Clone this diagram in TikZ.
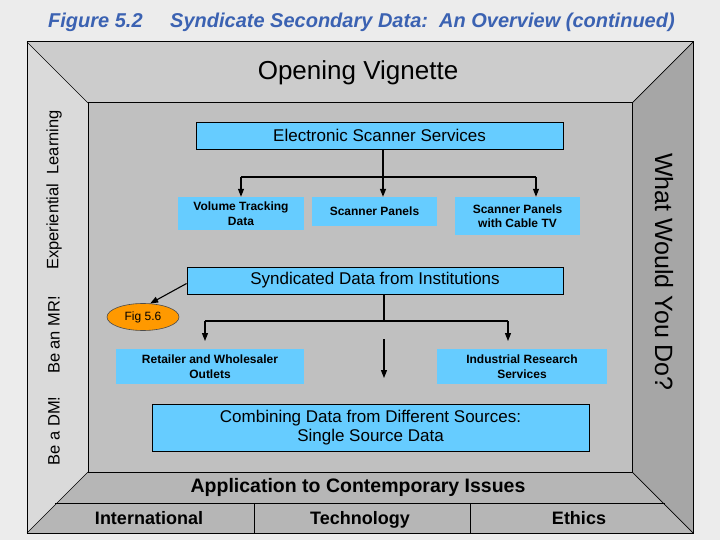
\documentclass[tikz,border=0pt]{standalone}
\usepackage{fontspec}
\setmainfont{Liberation Sans}
\usetikzlibrary{arrows.meta,shapes.geometric}
\definecolor{bgc}{RGB}{236,236,236}
\definecolor{topbev}{RGB}{204,204,204}
\definecolor{leftbev}{RGB}{218,218,218}
\definecolor{rightbev}{RGB}{166,166,166}
\definecolor{botbev}{RGB}{182,182,182}
\definecolor{innerc}{RGB}{192,192,192}
\definecolor{boxblue}{RGB}{102,204,255}
\definecolor{titleblue}{RGB}{59,98,178}
\definecolor{figorange}{RGB}{255,153,0}
\begin{document}
\begin{tikzpicture}[x=1pt,y=-1pt,
  frameline/.style={draw=black,line width=1pt},
  bluebox/.style={fill=boxblue,inner sep=0pt,align=center,font=\fontsize{17}{19}\selectfont},
  bluebordered/.style={bluebox,draw=black,line width=0.9pt},
  smallbox/.style={fill=boxblue,inner sep=0pt,align=center,font=\fontsize{12}{14.5}\selectfont\bfseries},
  sidetxt/.style={font=\fontsize{16.5}{18}\selectfont,inner sep=0pt},
  tabtxt/.style={font=\fontsize{18}{20}\selectfont\bfseries,inner sep=0pt,anchor=base},
  titletxt/.style={font=\fontsize{20}{22}\selectfont\bfseries\itshape,text=titleblue,inner sep=0pt,anchor=west},
  conn/.style={draw=black,line width=1.1pt},
  arr/.style={conn,-{Triangle[width=6pt,length=8pt]}}]
\useasboundingbox (0,0) rectangle (720,540);
\fill[bgc] (0,0) rectangle (720,540);
% bevelled frame
\fill[topbev] (27,42) -- (693,42) -- (632,103) -- (88,103) -- cycle;
\fill[leftbev] (27,42) -- (88,103) -- (88,472) -- (27,533) -- cycle;
\fill[rightbev] (693,42) -- (693,533) -- (632,472) -- (632,103) -- cycle;
\fill[botbev] (27,533) -- (88,472) -- (632,472) -- (693,533) -- cycle;
\fill[innerc] (88,103) rectangle (632,472);
\draw[frameline] (27,42) rectangle (693,533);
\draw[frameline] (88,103) rectangle (632,472);
\draw[line width=0.7pt] (27,42) -- (88,103);
\draw[line width=0.7pt] (693,42) -- (632,103);
\draw[line width=0.7pt] (27,533) -- (88,472);
\draw[line width=0.7pt] (693,533) -- (632,472);
\draw[frameline] (55,503) -- (665,503);
\draw[frameline] (254,503) -- (254,533);
\draw[frameline] (470,503) -- (470,533);
% titles
\node[titletxt] (fig) at (48,22) {Figure 5.2};
\node[titletxt] (ttl) at (170,22) {Syndicate Secondary Data:\ \ An Overview (continued)};
\node[font=\fontsize{26}{28}\selectfont,inner sep=0pt] (ov) at (358,73) {Opening Vignette};
\node[font=\fontsize{19.5}{22}\selectfont\bfseries,inner sep=0pt,anchor=base] (app) at (358,492) {Application to Contemporary Issues};
\node[tabtxt] (intl) at (149,524) {International};
\node[tabtxt] (tech) at (360,524) {Technology};
\node[tabtxt] (eth) at (579,524) {Ethics};
% side labels
\node[sidetxt,rotate=90] (exp) at (54,190) {Experiential\ \ Learning};
\node[sidetxt,rotate=90] (mr) at (54,335) {Be an MR!};
\node[sidetxt,rotate=90] (dm) at (54,431) {Be a DM!};
\node[font=\fontsize{25}{27}\selectfont,inner sep=0pt,rotate=-90] (wwyd) at (664,272) {What Would You Do?};
% boxes
\node[bluebordered,minimum width=367,minimum height=27] (ess) at (379.5,135.5) {Electronic Scanner Services};
\node[smallbox,minimum width=126,minimum height=33] (vtd) at (241,213.5) {Volume Tracking\\Data};
\node[smallbox,minimum width=125,minimum height=29] (sp) at (374.5,211.5) {Scanner Panels};
\node[smallbox,minimum width=125,minimum height=38] (cab) at (517.5,216) {Scanner Panels\\with Cable TV};
\node[bluebordered,minimum width=376,minimum height=27] (sdi) at (375,280.5) {Syndicated Data from Institutions};
\node[ellipse,draw=black!70,line width=0.6pt,fill=figorange,minimum width=72,minimum height=27,inner sep=0pt,font=\fontsize{12}{14}\selectfont] (f56) at (143,317) {Fig 5.6};
\node[smallbox,minimum width=188,minimum height=35] (ret) at (210,366.5) {Retailer and Wholesaler\\Outlets};
\node[smallbox,minimum width=170,minimum height=35] (ind) at (522,366.5) {Industrial Research\\Services};
\node[bluebordered,minimum width=437,minimum height=47] (comb) at (370.5,427.5) {Combining Data from Different Sources:\\Single Source Data};
% connectors
\coordinate (j1) at (383,177);
\coordinate (j1l) at (241,177);
\coordinate (j1r) at (536,177);
\draw[conn] (j1l) -- (j1r);
\draw[arr,line width=1.5pt] (ess.south -| j1) -- (sp.north -| j1);
\draw[arr] (j1l) -- (vtd.north -| j1l);
\draw[arr] (j1r) -- (cab.north -| j1r);
\coordinate (j2) at (384,321);
\coordinate (j2l) at (205,321);
\coordinate (j2r) at (508,321);
\coordinate (t2l) at (205,341);
\coordinate (t2r) at (508,341);
\draw[conn] (sdi.south -| j2) -- (j2);
\draw[conn] (j2l) -- (j2r);
\draw[arr] (j2l) -- (t2l);
\draw[arr] (j2r) -- (t2r);
\coordinate (fa) at (384,339);
\coordinate (fb) at (384,378);
\draw[arr] (fa) -- (fb);
\draw[arr] ([yshift=-3pt]sdi.west) -- (f56.62);
\end{tikzpicture}
\end{document}
